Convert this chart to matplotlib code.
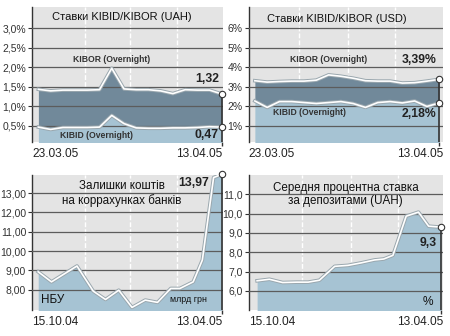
import matplotlib.pyplot as plt
import matplotlib.patheffects as pe

plt.rcParams['font.family'] = ['Liberation Sans', 'DejaVu Sans']

# top panels: 16 trading days 23.03.05 .. 13.04.05
day_idx = list(range(16))
uah_kibor = [1.44, 1.40, 1.42, 1.42, 1.42, 1.43, 1.98, 1.45, 1.43, 1.43, 1.40, 1.33, 1.43, 1.42, 1.42, 1.32]
uah_kibid = [0.47, 0.41, 0.46, 0.46, 0.46, 0.47, 0.77, 0.56, 0.45, 0.44, 0.44, 0.45, 0.45, 0.46, 0.48, 0.47]
usd_kibor = [3.32, 3.25, 3.28, 3.30, 3.30, 3.35, 3.62, 3.55, 3.45, 3.32, 3.30, 3.30, 3.20, 3.22, 3.30, 3.39]
usd_kibid = [2.28, 1.95, 2.25, 2.25, 2.20, 2.15, 2.20, 2.25, 2.15, 1.95, 2.20, 2.25, 2.18, 2.28, 2.00, 2.18]

# bottom panels: days since 15.10.04
nbu_days = [0, 13, 38, 54, 66, 79, 92, 105, 117, 130, 139, 152, 161, 172, 180]
nbu_vals = [8.93, 8.41, 9.23, 7.93, 7.50, 7.98, 7.09, 7.47, 7.35, 8.07, 8.07, 8.41, 9.54, 13.80, 13.97]
dep_days = [0, 12, 25, 39, 50, 61, 76, 89, 102, 115, 124, 133, 146, 158, 168, 180]
dep_vals = [6.52, 6.60, 6.43, 6.45, 6.45, 6.55, 7.27, 7.32, 7.45, 7.60, 7.65, 7.84, 9.87, 10.08, 9.35, 9.30]

BG = '#e4e4e4'
LIGHT = '#a6c3d3'
DARKFILL = '#71899a'
GRID = '#5c5c5c'
DARK = '#333333'

fig = plt.figure(figsize=(4.5, 3.36), dpi=100)

line_fx = [pe.Stroke(linewidth=2.6, foreground='#9aa7ae'), pe.Normal()]


def panel(rect, xlim, ylim, ticks, labels, vfrac, d0, d1):
    ax = fig.add_axes(rect)
    ax.set_facecolor(BG)
    ax.set_xlim(xlim)
    ax.set_ylim(ylim)
    for s in ['top', 'right', 'bottom']:
        ax.spines[s].set_visible(False)
    ax.spines['left'].set_color(DARK)
    ax.spines['left'].set_linewidth(1.0)
    ax.set_yticks(ticks)
    ax.set_yticklabels(labels)
    ax.tick_params(axis='y', length=3, width=0.8, color=DARK,
                   labelsize=7.5, labelcolor='#333333', pad=1.5)
    for f in vfrac:
        ax.plot([f, f], [0, 1], transform=ax.transAxes, color='white',
                lw=1.0, ls=(0, (3.5, 1.5)), zorder=1)
    for t in ticks:
        ax.axhline(t, color=GRID, lw=0.9, zorder=3)
    ax.text(0.0, -0.09, d0, transform=ax.transAxes, ha='left', va='center',
            fontsize=8.6, color='#222222')
    ax.text(1.0, -0.09, d1, transform=ax.transAxes, ha='right', va='center',
            fontsize=8.6, color='#222222')
    return ax


def finish(ax, x, top, marks):
    ax.set_xticks([x])
    ax.set_xticklabels([''])
    ax.tick_params(axis='x', length=3, width=1.0, color=DARK)
    ax.plot([x, x], [ax.get_ylim()[0], top], color=DARK, lw=1.2, zorder=5)
    for m in marks:
        ax.plot([x], [m], 'o', ms=4.6, mfc='white', mec=DARK, mew=0.8,
                zorder=6, clip_on=False)


# --- KIBID/KIBOR UAH ---
ax1 = panel([0.072, 0.577, 0.423, 0.402], (-0.49, 15.08), (0.085, 3.55),
            [0.5, 1.0, 1.5, 2.0, 2.5, 3.0],
            ['0,5%', '1,0%', '1,5%', '2,0%', '2,5%', '3,0%'],
            [0.276, 0.513, 0.760], '23.03.05', '13.04.05')
ax1.fill_between(day_idx, 0, uah_kibid, color=LIGHT, lw=0, zorder=2)
ax1.fill_between(day_idx, uah_kibid, uah_kibor, color=DARKFILL, lw=0, zorder=2)
ax1.plot(day_idx, uah_kibor, color='white', lw=1.2, zorder=4, path_effects=line_fx)
ax1.plot(day_idx, uah_kibid, color='white', lw=1.2, zorder=4, path_effects=line_fx)
finish(ax1, day_idx[-1], uah_kibor[-1], [uah_kibor[-1], uah_kibid[-1]])
ax1.text(0.47, 0.925, 'Ставки KIBID/KIBOR (UAH)', transform=ax1.transAxes,
         ha='center', va='center', fontsize=8.0, color='#111111')
ax1.text(0.415, 0.61, 'KIBOR (Overnight)', transform=ax1.transAxes, ha='center',
         va='center', fontsize=6.2, fontweight='bold', color='#333333')
ax1.text(0.335, 0.05, 'KIBID (Overnight)', transform=ax1.transAxes, ha='center',
         va='center', fontsize=6.2, fontweight='bold', color='#333333')
ax1.text(0.98, 0.47, '1,32', transform=ax1.transAxes, ha='right', va='center',
         fontsize=8.8, fontweight='bold', color='#222222')
ax1.text(0.98, 0.05, '0,47', transform=ax1.transAxes, ha='right', va='center',
         fontsize=8.8, fontweight='bold', color='#222222')

# --- KIBID/KIBOR USD ---
ax2 = panel([0.553, 0.577, 0.432, 0.402], (-0.49, 15.33), (0.17, 7.1),
            [1, 2, 3, 4, 5, 6], ['1%', '2%', '3%', '4%', '5%', '6%'],
            [0.257, 0.510, 0.751], '23.03.05', '13.04.05')
ax2.fill_between(day_idx, 0, usd_kibid, color=LIGHT, lw=0, zorder=2)
ax2.fill_between(day_idx, usd_kibid, usd_kibor, color=DARKFILL, lw=0, zorder=2)
ax2.plot(day_idx, usd_kibor, color='white', lw=1.2, zorder=4, path_effects=line_fx)
ax2.plot(day_idx, usd_kibid, color='white', lw=1.2, zorder=4, path_effects=line_fx)
finish(ax2, day_idx[-1], usd_kibor[-1], [usd_kibor[-1], usd_kibid[-1]])
ax2.text(0.455, 0.915, 'Ставки KIBID/KIBOR (USD)', transform=ax2.transAxes,
         ha='center', va='center', fontsize=8.0, color='#111111')
ax2.text(0.41, 0.615, 'KIBOR (Overnight)', transform=ax2.transAxes, ha='center',
         va='center', fontsize=6.2, fontweight='bold', color='#333333')
ax2.text(0.31, 0.22, 'KIBID (Overnight)', transform=ax2.transAxes, ha='center',
         va='center', fontsize=6.2, fontweight='bold', color='#333333')
ax2.text(0.967, 0.61, '3,39%', transform=ax2.transAxes, ha='right', va='center',
         fontsize=8.8, fontweight='bold', color='#222222')
ax2.text(0.965, 0.21, '2,18%', transform=ax2.transAxes, ha='right', va='center',
         fontsize=8.8, fontweight='bold', color='#222222')

# --- NBU correspondent accounts ---
ax3 = panel([0.072, 0.077, 0.423, 0.402], (-5.7, 181.0), (6.95, 13.93),
            [8, 9, 10, 11, 12, 13],
            ['8,00', '9,00', '10,00', '11,00', '12,00', '13,00'],
            [0.276, 0.513, 0.760], '15.10.04', '13.04.05')
ax3.fill_between(nbu_days, 0, nbu_vals, color=LIGHT, lw=0, zorder=2)
ax3.plot(nbu_days, nbu_vals, color='white', lw=1.2, zorder=4, path_effects=line_fx)
finish(ax3, nbu_days[-1], nbu_vals[-1], [nbu_vals[-1]])
ax3.text(0.47, 0.92, 'Залишки коштів', transform=ax3.transAxes,
         ha='center', va='center', fontsize=8.4, color='#111111')
ax3.text(0.47, 0.815, 'на коррахунках банків', transform=ax3.transAxes,
         ha='center', va='center', fontsize=8.4, color='#111111')
ax3.text(0.93, 0.94, '13,97', transform=ax3.transAxes, ha='right', va='center',
         fontsize=8.8, fontweight='bold', color='#222222')
ax3.text(0.043, 0.075, 'НБУ', transform=ax3.transAxes, ha='left', va='center',
         fontsize=8.4, color='#111111')
ax3.text(0.82, 0.075, 'млрд грн', transform=ax3.transAxes, ha='center',
         va='center', fontsize=6.4, color='#111111')

# --- average deposit rate ---
ax4 = panel([0.553, 0.077, 0.432, 0.402], (-8.1, 182.3), (5.0, 12.0),
            [6, 7, 8, 9, 10, 11], ['6,0', '7,0', '8,0', '9,0', '10,0', '11,0'],
            [0.273, 0.525, 0.767], '15.10.04', '13.04.05')
ax4.fill_between(dep_days, 0, dep_vals, color=LIGHT, lw=0, zorder=2)
ax4.plot(dep_days, dep_vals, color='white', lw=1.2, zorder=4, path_effects=line_fx)
finish(ax4, dep_days[-1], dep_vals[-1], [dep_vals[-1]])
ax4.text(0.5, 0.905, 'Середня процентна ставка', transform=ax4.transAxes,
         ha='center', va='center', fontsize=8.4, color='#111111')
ax4.text(0.495, 0.805, 'за депозитами (UAH)', transform=ax4.transAxes,
         ha='center', va='center', fontsize=8.4, color='#111111')
ax4.text(0.965, 0.5, '9,3', transform=ax4.transAxes, ha='right', va='center',
         fontsize=8.8, fontweight='bold', color='#222222')
ax4.text(0.92, 0.06, '%', transform=ax4.transAxes, ha='center', va='center',
         fontsize=8.6, color='#111111')

fig.savefig('out.png', dpi=100)
